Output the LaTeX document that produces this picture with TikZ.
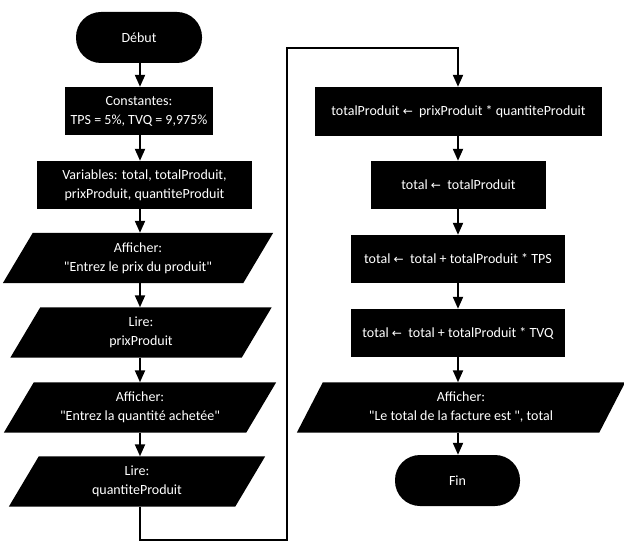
\documentclass[tikz,border=0pt]{standalone}
\usepackage{fontspec}
\setmainfont{Carlito}[Ligatures=TeXOff]
\newfontfamily\arrfont{DejaVu Sans}
\usetikzlibrary{arrows.meta,calc,backgrounds}
\newcommand{\la}{{\arrfont\fontsize{12}{12}\selectfont ←}}
\tikzset{
  txt/.style={text=white, align=center, inner sep=0pt, font=\fontsize{14}{19}\selectfont},
  term/.style={txt, fill=black, rounded corners=25pt, minimum height=51pt},
  proc/.style={txt, fill=black, minimum height=48pt},
  iobox/.style={txt, minimum height=50pt},
  arr/.style={line width=2pt, -{Triangle[width=10pt,length=12pt]}},
}
\begin{document}
\begin{tikzpicture}[x=1pt,y=-1pt]
\useasboundingbox (0,0) rectangle (624,556);
\coordinate (colL) at (140,0);
\coordinate (colR) at (458,0);
% left column
\node[term, minimum width=126pt] (debut) at (139,37.5) {Début};
\node[proc, minimum width=148pt] (const) at (139,111) {Constantes:\\TPS = 5\%, TVQ = 9,975\%};
\node[proc, minimum width=215pt] (vars) at (144.5,185) {Variables: total, totalProduit,\\prixProduit, quantiteProduit};
\node[iobox, minimum width=240pt] (aff1) at (138,258) {Afficher:\\"Entrez le prix du produit"};
\node[iobox, minimum width=231pt] (lire1) at (141,332.5) {Lire:\\prixProduit};
\node[iobox, minimum width=242pt] (aff2) at (140,407.5) {Afficher:\\"Entrez la quantité achetée"};
\node[iobox, minimum width=226pt] (lire2) at (137,481.5) {Lire:\\quantiteProduit};
% right column
\node[proc, minimum width=287pt, minimum height=49pt] (tp) at (458.5,111.5) {totalProduit \la{}\ \ prixProduit * quantiteProduit};
\node[proc, minimum width=175pt] (t1) at (458.5,185) {total \la{}\ \ totalProduit};
\node[proc, minimum width=214pt] (tps) at (458,259) {total \la{}\ \ total + totalProduit * TPS};
\node[proc, minimum width=214pt] (tvq) at (458,333) {total \la{}\ \ total + totalProduit * TVQ};
\node[iobox, minimum width=302pt] (aff3) at (461,407.5) {Afficher:\\"Le total de la facture est ", total};
\node[term, minimum width=125pt] (fin) at (457.5,480.5) {Fin};
% parallelogram bodies
\begin{scope}[on background layer]
\foreach \n/\s in {aff1/30, lire1/30, aff2/30, lire2/30, aff3/26}{
  \fill[black] ($(\n.north west)+(\s/2,0)$) -- ($(\n.north east)+(\s/2,0)$)
    -- ($(\n.south east)-(\s/2,0)$) -- ($(\n.south west)-(\s/2,0)$) -- cycle;
}
\end{scope}
% connectors left
\draw[arr] (debut.south -| colL) -- (const.north -| colL);
\draw[arr] (const.south -| colL) -- (vars.north -| colL);
\draw[arr] (vars.south -| colL) -- (aff1.north -| colL);
\draw[arr] (aff1.south -| colL) -- (lire1.north -| colL);
\draw[arr] (lire1.south -| colL) -- (aff2.north -| colL);
\draw[arr] (aff2.south -| colL) -- (lire2.north -| colL);
% loop-over connector
\coordinate (c1) at (287,540);
\coordinate (c2) at (287,48);
\draw[arr] (lire2.south -| colL) |- (c1) -- (c2) -| (tp.north -| colR);
% connectors right
\draw[arr] (tp.south -| colR) -- (t1.north -| colR);
\draw[arr] (t1.south -| colR) -- (tps.north -| colR);
\draw[arr] (tps.south -| colR) -- (tvq.north -| colR);
\draw[arr] (tvq.south -| colR) -- (aff3.north -| colR);
\draw[arr] (aff3.south -| colR) -- (fin.north -| colR);
\end{tikzpicture}
\end{document}
